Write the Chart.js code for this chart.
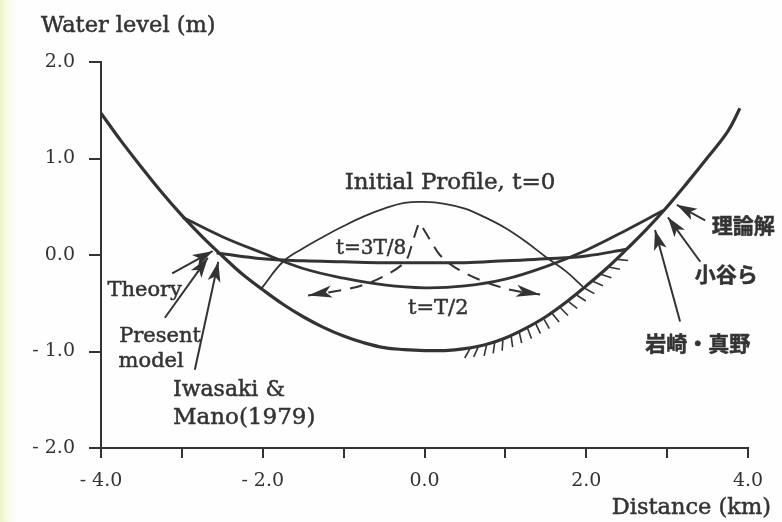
<!DOCTYPE html>
<html>
<head>
<meta charset="utf-8">
<script src="https://cdn.jsdelivr.net/npm/chart.js@4.4.1/dist/chart.umd.min.js"></script>
<style>
  html, body { margin: 0; padding: 0; }
  body {
    width: 782px; height: 522px; overflow: hidden;
    background: linear-gradient(to right, #eef3c6 0px, #f9fbe8 8px, #fefefe 18px);
  }
  #wrap { position: relative; width: 782px; height: 522px; }
</style>
</head>
<body>
<div id="wrap"><canvas id="c" width="782" height="522"></canvas></div>
<script>
// 底面形状（放物線型の湾）
const xBottom = [-4, -3.75, -3.5, -3.25, -3, -2.75, -2.5, -2.25, -2, -1.75, -1.5, -1.25, -1, -0.75, -0.5, -0.25,
  0, 0.25, 0.5, 0.75, 1, 1.25, 1.5, 1.75, 2, 2.25, 2.5, 2.75, 3, 3.25, 3.5, 3.75, 3.9];
const yBottom = [1.47, 1.18, 0.91, 0.65, 0.41, 0.19, -0.01, -0.20, -0.36, -0.51, -0.64, -0.75, -0.84, -0.91, -0.96, -0.98,
  -0.99, -0.99, -0.97, -0.93, -0.86, -0.76, -0.64, -0.49, -0.32, -0.14, 0.06, 0.27, 0.50, 0.75, 1.01, 1.28, 1.52];

// 初期水位 t=0
const xInit = [-2.01, -1.75, -1.5, -1.25, -1, -0.75, -0.5, -0.25, 0, 0.25, 0.5, 0.75, 1, 1.25, 1.5, 1.75, 1.96];
const yInit = [-0.34, -0.07, 0.07, 0.19, 0.30, 0.40, 0.48, 0.54, 0.55, 0.53, 0.48, 0.39, 0.28, 0.14, -0.02, -0.17, -0.33];

// t=3T/8
const x38 = [-2.57, -2, -1.5, -1, -0.5, 0, 0.5, 1, 1.5, 2, 2.5];
const y38 = [0.02, -0.04, -0.06, -0.07, -0.08, -0.08, -0.08, -0.06, -0.04, -0.01, 0.06];

// t=T/2
const xHalf = [-2.99, -2.5, -2, -1.5, -1, -0.5, 0, 0.5, 1, 1.5, 2, 2.5, 2.95];
const yHalf = [0.39, 0.19, 0.02, -0.14, -0.24, -0.31, -0.34, -0.32, -0.25, -0.12, 0.05, 0.26, 0.46];

// 破線矢印（水の移動方向）
const xArrowL = [-0.08, -0.14, -0.24, -0.55, -0.88, -1.44];
const yArrowL = [0.31, 0.155, -0.07, -0.24, -0.34, -0.42];
const xArrowR = [-0.02, 0.07, 0.19, 0.38, 0.69, 1.06, 1.43];
const yArrowR = [0.28, 0.155, 0.0, -0.13, -0.26, -0.36, -0.41];

// 軸目盛
const xTicks = [-4, -3, -2, -1, 0, 1, 2, 3, 4];
const yTicks = [-2, -1, 0, 1, 2];

// 注記の文字
const SERIF = '"DejaVu Serif"';
const labels = [
  { text: 'Initial Profile, t=0', x: 0.315, y: 0.746, align: 'center', font: '23px ' + SERIF },
  { text: 't=3T/8', x: -0.66, y: 0.06, align: 'center', font: '20px ' + SERIF },
  { text: 't=T/2', x: 0.17, y: -0.55, align: 'center', font: '21px ' + SERIF },
  { text: 'Theory', x: -3.46, y: -0.37, align: 'center', font: '21px ' + SERIF },
  { text: 'Present', x: -3.27, y: -0.84, align: 'center', font: '21px ' + SERIF },
  { text: 'model', x: -3.38, y: -1.10, align: 'center', font: '21px ' + SERIF },
  { text: 'Iwasaki &', x: -3.11, y: -1.40, align: 'left', font: '22px ' + SERIF },
  { text: 'Mano(1979)', x: -3.11, y: -1.69, align: 'left', font: '23px ' + SERIF },
  { text: '理論解', x: 3.94, y: 0.31, align: 'center', font: 'bold 21px "Noto Sans CJK JP"' },
  { text: '小谷ら', x: 3.73, y: -0.20, align: 'center', font: 'bold 21px "Noto Sans CJK JP"' },
  { text: '岩崎・真野', x: 3.38, y: -0.91, align: 'center', font: 'bold 21px "Noto Sans CJK JP"' }
];

// 指示矢印 [始点x, 始点y, 先端x, 先端y]
const pointers = [
  [-3.12, -0.19, -2.62, 0.04],
  [-3.21, -0.65, -2.68, -0.03],
  [-2.84, -1.19, -2.55, -0.07],
  [3.47, 0.36, 3.12, 0.52],
  [3.41, -0.07, 3.01, 0.39],
  [3.16, -0.69, 2.85, 0.26]
];

const INK = '#333333';

function pts(xs, ys) {
  return xs.map((x, i) => ({ x: x, y: ys[i] }));
}

function fmt(v) {
  return v < 0 ? '- ' + Math.abs(v).toFixed(1) : v.toFixed(1);
}

function arrowHead(ctx, x1, y1, x2, y2, len, hw) {
  const a = Math.atan2(y2 - y1, x2 - x1);
  const c = Math.cos(a), s = Math.sin(a);
  ctx.beginPath();
  ctx.moveTo(x2, y2);
  ctx.lineTo(x2 - len * c + hw * s, y2 - len * s - hw * c);
  ctx.lineTo(x2 - len * 0.75 * c, y2 - len * 0.75 * s);
  ctx.lineTo(x2 - len * c - hw * s, y2 - len * s + hw * c);
  ctx.closePath();
  ctx.fill();
}

// 太めの文字（スキャン画像の濃さに合わせる）
function inkText(ctx, text, x, y) {
  ctx.fillText(text, x, y);
  ctx.strokeText(text, x, y);
}

// 底面の線形補間（ハッチング位置用）
function bottomAt(x) {
  for (let i = 0; i < xBottom.length - 1; i++) {
    if (x >= xBottom[i] && x <= xBottom[i + 1]) {
      const t = (x - xBottom[i]) / (xBottom[i + 1] - xBottom[i]);
      return yBottom[i] + t * (yBottom[i + 1] - yBottom[i]);
    }
  }
  return yBottom[yBottom.length - 1];
}

const annotate = {
  id: 'annotate',
  afterDraw(chart) {
    const ctx = chart.ctx;
    const sx = chart.scales.x, sy = chart.scales.y;
    const px = v => sx.getPixelForValue(v);
    const py = v => sy.getPixelForValue(v);
    ctx.save();
    ctx.fillStyle = INK;
    ctx.strokeStyle = INK;

    // ハッチング
    const h0 = 0.57, h1 = 2.37, n = 18;
    ctx.lineWidth = 1.6;
    for (let i = 0; i <= n; i++) {
      const x = h0 + (h1 - h0) * i / n;
      const p = [px(x), py(bottomAt(x))];
      const q = [px(x + 0.02), py(bottomAt(x + 0.02))];
      let tx = q[0] - p[0], ty = q[1] - p[1];
      const l = Math.hypot(tx, ty);
      tx /= l; ty /= l;
      const nx = -ty, ny = tx;
      const th = (40 - 80 * i / n) * Math.PI / 180;
      const dx = nx * Math.cos(th) - ny * Math.sin(th);
      const dy = nx * Math.sin(th) + ny * Math.cos(th);
      ctx.beginPath();
      ctx.moveTo(p[0] + dx * 1.5, p[1] + dy * 1.5);
      ctx.lineTo(p[0] + dx * 12, p[1] + dy * 12);
      ctx.stroke();
    }

    // 破線矢印の先端
    [4, 5].forEach(di => {
      const d = chart.getDatasetMeta(di).data;
      const a = d[d.length - 2], b = d[d.length - 1];
      arrowHead(ctx, a.x, a.y, b.x, b.y, 24, 6);
    });

    // 指示矢印
    ctx.lineWidth = 2;
    pointers.forEach(p => {
      const x1 = px(p[0]), y1 = py(p[1]), x2 = px(p[2]), y2 = py(p[3]);
      ctx.beginPath();
      ctx.moveTo(x1, y1);
      ctx.lineTo(x2, y2);
      ctx.stroke();
      arrowHead(ctx, x1, y1, x2, y2, 20, 6.5);
    });

    // 文字
    ctx.textBaseline = 'middle';
    ctx.lineWidth = 0.5;
    labels.forEach(t => {
      ctx.font = t.font;
      ctx.textAlign = t.align;
      inkText(ctx, t.text, px(t.x), py(t.y));
    });

    // 軸タイトル
    ctx.font = '22.5px ' + SERIF;
    ctx.textAlign = 'left';
    ctx.textBaseline = 'alphabetic';
    inkText(ctx, 'Water level (m)', 41, 32);
    ctx.textAlign = 'right';
    inkText(ctx, 'Distance (km)', 771, 514);
    ctx.restore();
  }
};

const lineDs = (data, width) => ({
  data: data,
  borderColor: INK,
  borderWidth: width,
  pointRadius: 0,
  tension: 0.4,
  fill: false
});

new Chart(document.getElementById('c'), {
  type: 'line',
  data: {
    datasets: [
      lineDs(pts(xBottom, yBottom), 3.2),
      lineDs(pts(xInit, yInit), 1.8),
      lineDs(pts(x38, y38), 3),
      lineDs(pts(xHalf, yHalf), 2.8),
      Object.assign(lineDs(pts(xArrowL, yArrowL), 2), { borderDash: [13, 9], tension: 0.3 }),
      Object.assign(lineDs(pts(xArrowR, yArrowR), 2), { borderDash: [13, 9], tension: 0.3 })
    ]
  },
  options: {
    responsive: false,
    animation: false,
    layout: { padding: { top: 62, right: 34, left: 0, bottom: 0 } },
    plugins: { legend: { display: false }, tooltip: { enabled: false } },
    scales: {
      x: {
        type: 'linear', min: -4, max: 4,
        afterBuildTicks: s => { s.ticks = xTicks.map(v => ({ value: v })); },
        afterFit: s => { s.height = 74; },
        ticks: {
          autoSkip: false, maxRotation: 0, padding: 12,
          color: INK, font: { family: 'DejaVu Serif', size: 19 },
          callback: v => (v % 2 === 0 ? fmt(v) : '')
        },
        grid: { drawOnChartArea: false, drawTicks: true, tickLength: 10, color: INK, lineWidth: 2 },
        border: { display: true, color: INK, width: 2 }
      },
      y: {
        type: 'linear', min: -2, max: 2,
        afterBuildTicks: s => { s.ticks = yTicks.map(v => ({ value: v })); },
        afterFit: s => { s.width = 101; },
        ticks: {
          autoSkip: false, padding: 14,
          color: INK, font: { family: 'DejaVu Serif', size: 19 },
          callback: v => fmt(v)
        },
        grid: { drawOnChartArea: false, drawTicks: true, tickLength: 12, color: INK, lineWidth: 2 },
        border: { display: true, color: INK, width: 2 }
      }
    }
  },
  plugins: [annotate]
});
</script>
</body>
</html>
